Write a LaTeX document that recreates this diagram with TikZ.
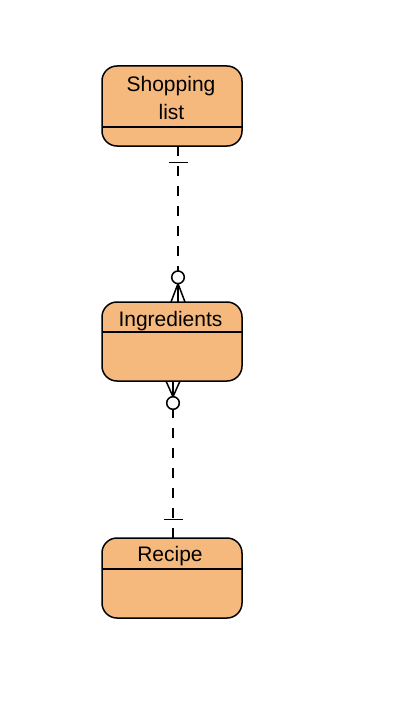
\documentclass[tikz,border=0pt]{standalone}
\usepackage{fontspec}
\setmainfont{Liberation Sans}
\usetikzlibrary{calc}
\definecolor{entfill}{HTML}{F5B97E}
\tikzset{
  entity/.style={draw=black, fill=entfill, line width=1.5pt, rounded corners=15pt,
    minimum width=140pt, minimum height=80pt, inner sep=0pt, outer sep=0pt},
  etext/.style={anchor=base, inner sep=0pt, font=\fontsize{21}{28}\selectfont},
  divider/.style={draw=black, line width=1.3pt},
  rel/.style={draw=black, line width=1.5pt, dash pattern=on 10pt off 10pt},
  relsolid/.style={draw=black, line width=1.5pt},
  zerocirc/.style={circle, draw=black, fill=white, line width=1.5pt, minimum size=12.6pt, inner sep=0pt, outer sep=0pt}
}
\begin{document}
\begin{tikzpicture}[x=1pt,y=-1pt]
\useasboundingbox (0,0) rectangle (415,717);
% entities
\node[entity] (shop) at (172,106) {};
\node[entity, minimum height=79pt] (ingr) at (172,341.5) {};
\node[entity] (recipe) at (172,578) {};
\draw[divider] ($(shop.north west)+(0,61)$) -- ($(shop.north east)+(0,61)$);
\draw[divider] ($(ingr.north west)+(0,30)$) -- ($(ingr.north east)+(0,30)$);
\draw[divider] ($(recipe.north west)+(0,31)$) -- ($(recipe.north east)+(0,31)$);
\node[etext] (shoptxt) at (171,91) {Shopping};
\node[etext] (listtxt) at (171.5,119) {list};
\node[etext] (ingrtxt) at (170.5,326) {Ingredients};
\node[etext] (rectxt) at (170,561.7) {Recipe};
% relation 1: Shopping list (one) -- Ingredients (zero or many)
\node[zerocirc] (c1) at (178,277.3) {};
\draw[rel] (c1.north |- shop.south) -- (c1.north);
\draw[relsolid] ($(c1 |- shop.south)+(-9.5,16.5)$) -- ++(19,0);
\draw[relsolid] (c1.south) -- ($(c1.south |- ingr.north)+(-7,0)$);
\draw[relsolid] (c1.south) -- (c1.south |- ingr.north);
\draw[relsolid] (c1.south) -- ($(c1.south |- ingr.north)+(7,0)$);
% relation 2: Ingredients (zero or many) -- Recipe (one)
\node[zerocirc] (c2) at (173,403) {};
\draw[rel] (c2.south |- recipe.north) -- (c2.south);
\draw[relsolid] ($(c2 |- recipe.north)+(-9.5,-18.5)$) -- ++(19,0);
\draw[relsolid] (c2.north) -- ($(c2.north |- ingr.south)+(-7,0)$);
\draw[relsolid] (c2.north) -- (c2.north |- ingr.south);
\draw[relsolid] (c2.north) -- ($(c2.north |- ingr.south)+(7,0)$);
\end{tikzpicture}
\end{document}
